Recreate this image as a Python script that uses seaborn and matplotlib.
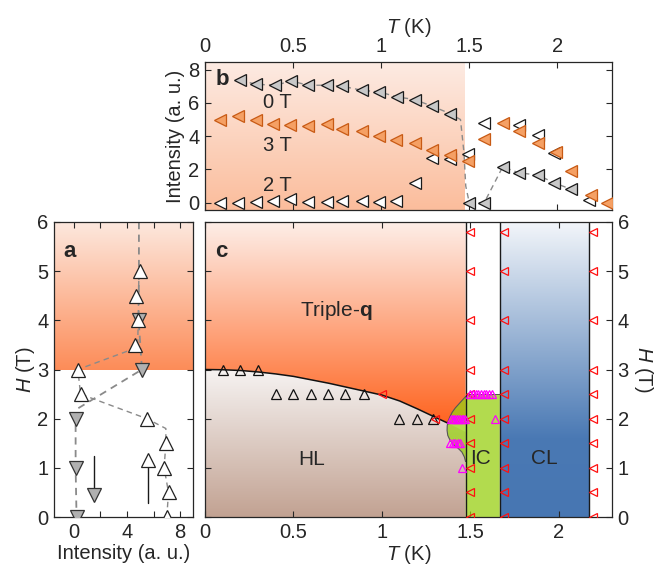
import numpy as np
import pandas as pd
import seaborn as sns
import matplotlib.pyplot as plt
from matplotlib.colors import LinearSegmentedColormap
from matplotlib.patches import Polygon

sns.set_theme(style="ticks")
plt.rcParams["font.family"] = ["Liberation Sans", "DejaVu Sans"]
plt.rcParams["mathtext.fontset"] = "custom"
plt.rcParams["mathtext.it"] = "Liberation Sans:italic"
plt.rcParams["mathtext.rm"] = "Liberation Sans"
plt.rcParams["mathtext.bf"] = "Liberation Sans:bold"

# ---- panel a : field sweeps
a_up_H = [0, 0.5, 1, 1.5, 2, 2.5, 3, 3.5, 4, 4.5, 5]
a_up_I = [7.0, 7.13, 6.8, 6.93, 5.5, 0.5, 0.3, 4.63, 4.8, 4.7, 4.95]
a_dn_H = [0, 1, 2, 3, 4]
a_dn_I = [0.2, 0.13, 0.13, 5.13, 4.88]
a_upline_H = [0, 0.5, 1, 1.5, 1.8, 2, 2.5, 3, 3.45, 4, 5]
a_upline_I = [7.0, 7.13, 6.8, 6.93, 6.93, 5.5, 0.5, 0.3, 4.8, 4.85, 4.9]
a_dnline_H = [6, 5, 4, 3, 2.18, 2, 1, 0]
a_dnline_I = [4.9, 4.9, 4.88, 5.13, 0.13, 0.13, 0.13, 0.2]
arrow_dn_I, arrow_dn_H = [1.5, 1.5], [1.25, 0.55]
arrow_up_I, arrow_up_H = [5.55, 5.55], [0.28, 1.05]

# ---- panel b : temperature scans
b_T0 = [0.2, 0.29, 0.4, 0.49, 0.585, 0.69, 0.78, 0.89, 0.99, 1.09, 1.19, 1.29, 1.39,
        1.5, 1.585, 1.69, 1.78, 1.89, 1.98, 2.08]
b_I0 = [7.36, 7.12, 7.06, 7.32, 7.06, 7.06, 7.0, 6.76, 6.66, 6.36, 6.2, 5.8, 5.36,
        0.0, 0.0, 2.16, 1.8, 1.66, 1.2, 0.8]
b_line_T = [0.2, 0.29, 0.4, 0.49, 0.585, 0.69, 0.78, 0.89, 0.99, 1.09, 1.19, 1.29, 1.39,
            1.45, 1.47, 1.48, 1.5, 1.585, 1.69, 1.78, 1.89, 1.98, 2.08]
b_line_I = [7.36, 7.12, 7.06, 7.32, 7.06, 7.06, 7.0, 6.76, 6.66, 6.36, 6.2, 5.8, 5.36,
            5.0, 3.0, 1.0, 0.0, 0.0, 2.16, 1.8, 1.66, 1.2, 0.8]
b_T3 = [0.085, 0.19, 0.29, 0.387, 0.48, 0.585, 0.69, 0.78, 0.89, 0.99, 1.085, 1.19, 1.29,
        1.39, 1.49, 1.585, 1.69, 1.78, 1.89, 1.99, 2.08, 2.19, 2.28]
b_I3 = [5.0, 5.2, 5.0, 4.72, 4.66, 4.6, 4.72, 4.46, 4.32, 4.0, 3.76, 3.6, 3.16,
        2.86, 2.52, 3.8, 4.8, 4.32, 3.6, 3.06, 1.92, 0.46, 0.0]
b_T2 = [0.085, 0.19, 0.29, 0.387, 0.48, 0.585, 0.69, 0.78, 0.89, 0.99, 1.085, 1.19,
        1.29, 1.39, 1.49, 1.585, 1.78, 1.89, 1.98, 2.18]
b_I2 = [0.0, 0.0, 0.06, 0.12, 0.2, 0.06, 0.06, 0.12, 0.12, 0.06, 0.12, 1.2,
        2.66, 2.6, 2.92, 4.8, 4.66, 4.06, 3.0, 0.16]

# ---- panel c : phase diagram
curve_T = [0, 0.1, 0.2, 0.3, 0.4, 0.5, 0.6, 0.7, 0.8, 0.9, 1.0, 1.1, 1.2, 1.3, 1.378]
curve_H = [3.0, 2.995, 2.98, 2.95, 2.91, 2.86, 2.79, 2.72, 2.64, 2.56, 2.48, 2.36, 2.2, 2.03, 1.9]
T_tq, T_ic, T_cl = 1.473, 1.666, 2.172
ext_H = 1.73
lobe_T = [1.49, 1.473, 1.455, 1.435, 1.415, 1.397, 1.384, 1.374, 1.369, 1.368, 1.372,
          1.385, 1.405, 1.43, 1.452, 1.466, 1.473]
lobe_H = [2.5, 2.45, 2.38, 2.3, 2.22, 2.13, 2.04, 1.95, 1.86, 1.76, 1.66,
          1.56, 1.47, 1.4, 1.32, 1.22, 1.12]

c_black_T = [0.1, 0.2, 0.3, 0.4, 0.5, 0.6, 0.695, 0.79, 0.9, 1.095, 1.2, 1.29]
c_black_H = [3, 3, 3, 2.5, 2.5, 2.5, 2.5, 2.5, 2.5, 2, 2, 2]
red_H = [0, 0.5, 1, 1.5, 2, 2.5, 3, 4, 5, 5.8]
red_cols = [1.5, 1.69, 2.19]
red_extra_T = [1.0, 1.3]
red_extra_H = [2.5, 2.0]
mag_T = [1.5, 1.515, 1.53, 1.545, 1.56, 1.575, 1.59, 1.605, 1.62,
         1.39, 1.40, 1.41, 1.42, 1.43, 1.44, 1.45, 1.46, 1.47, 1.637,
         1.385, 1.40, 1.415, 1.43, 1.44, 1.454]
mag_H = [2.5] * 9 + [2] * 10 + [1.5] * 5 + [1]

fig = plt.figure(figsize=(6.56, 5.76), dpi=100)
axb = fig.add_axes([0.3125, 0.6354, 0.6204, 0.2570])
axc = fig.add_axes([0.3125, 0.1024, 0.6204, 0.5122])
axa = fig.add_axes([0.0823, 0.1024, 0.2124, 0.5122])

FS = 14.5
TXT = 15
dark = "#262626"


def gradient(ax, verts, stops, y0, y1, x0, x1, z=0):
    cmap = LinearSegmentedColormap.from_list("g", stops)
    img = np.linspace(0, 1, 256).reshape(-1, 1)
    im = ax.imshow(img, extent=[x0, x1, y0, y1], origin="lower", aspect="auto",
                   cmap=cmap, zorder=z, interpolation="bilinear")
    poly = Polygon(verts, closed=True, facecolor="none", edgecolor="none")
    ax.add_patch(poly)
    im.set_clip_path(poly)


def pts(ax, x, y, marker, ms, fc, ec, mew=0.9, z=4):
    sns.lineplot(x=x, y=y, estimator=None, sort=False, ax=ax, marker=marker,
                 linestyle="none", ms=ms, mfc=fc, mec=ec, mew=mew, zorder=z)


def style(ax):
    ax.tick_params(direction="in", length=4.5, width=0.8, top=True, right=True,
                   labelsize=FS, colors=dark, pad=4)
    for s in ax.spines.values():
        s.set_linewidth(0.9)
        s.set_color(dark)
        s.set_visible(True)


# ---------- panel a
gradient(axa, [(-1.5, 3), (9, 3), (9, 6), (-1.5, 6)],
         [(0, "#fc8c58"), (1, "#fde8de")], 3, 6, -1.5, 9)
sns.lineplot(x=a_upline_I, y=a_upline_H, estimator=None, sort=False, ax=axa,
             color="#8a8a8a", lw=1, linestyle=(0, (4, 3)), zorder=2)
sns.lineplot(x=a_dnline_I, y=a_dnline_H, estimator=None, sort=False, ax=axa,
             color="#8a8a8a", lw=1.3, linestyle=(0, (4, 3)), zorder=2)
axa.plot(arrow_dn_I, arrow_dn_H, color="k", lw=1, zorder=3)
axa.plot(arrow_up_I, arrow_up_H, color="k", lw=1, zorder=3)
pts(axa, [arrow_dn_I[0]], [0.45], "v", 9.5, "#b0b0b0", "#333333")
pts(axa, [arrow_up_I[0]], [1.15], "^", 9.5, "white", "#222222")
pts(axa, a_up_I, a_up_H, "^", 9.5, "white", "#222222", z=5)
pts(axa, a_dn_I, a_dn_H, "v", 9.5, "#b0b0b0", "#333333", z=4)
axa.set_xlim(-1.5, 9)
axa.set_ylim(0, 6)
axa.set_xticks([0, 2, 4, 6, 8])
axa.set_xticklabels(["0", "", "4", "", "8"])
axa.set_yticks(range(7))
axa.set_xlabel("Intensity (a. u.)", fontsize=FS, color=dark, labelpad=2)
axa.set_ylabel("$H$ (T)", fontsize=FS, color=dark, labelpad=0)
axa.text(-0.8, 5.39, "a", fontsize=16, fontweight="bold", va="center", ha="left")
style(axa)
axa.set_zorder(3)

# ---------- panel b
gradient(axb, [(0, -0.5), (T_tq, -0.5), (T_tq, 8.5), (0, 8.5)],
         [(0, "#fbbd9c"), (1, "#fdebe3")], -0.44, 8.46, 0, T_tq)
sns.lineplot(x=b_line_T, y=b_line_I, estimator=None, sort=False, ax=axb,
             color="#8a8a8a", lw=1, linestyle=(0, (4, 3)), zorder=2)
pts(axb, b_T2, b_I2, "<", 8.5, "white", "#1a1a1a", z=3)
pts(axb, b_T0, b_I0, "<", 8.5, "#c8c8c8", "#1a1a1a", z=4)
pts(axb, b_T3, b_I3, "<", 8.5, "#f5a064", "#c85a14", z=5)
axb.text(0.41, 6.05, "0 T", fontsize=TXT - 0.5, ha="center", va="center")
axb.text(0.41, 3.46, "3 T", fontsize=TXT - 0.5, ha="center", va="center")
axb.text(0.41, 1.06, "2 T", fontsize=TXT - 0.5, ha="center", va="center")
axb.text(0.06, 7.42, "b", fontsize=16, fontweight="bold", va="center", ha="left")
axb.set_xlim(0, 2.31)
axb.set_ylim(-0.44, 8.46)
axb.set_xticks([0, 0.5, 1, 1.5, 2])
axb.set_xticklabels(["0", "0.5", "1", "1.5", "2"])
axb.set_yticks([0, 2, 4, 6, 8])
axb.xaxis.set_label_position("top")
axb.set_xlabel("$T$ (K)", fontsize=FS, color=dark, labelpad=3)
axb.set_ylabel("Intensity (a. u.)", fontsize=FS, color=dark, labelpad=2)
style(axb)
axb.tick_params(labeltop=True, labelbottom=False)

# ---------- panel c
bnd = list(zip(curve_T, curve_H))
gradient(axc, [(0, 6), (T_tq, 6), (T_tq, ext_H)] + bnd[::-1],
         [(0, "#ff6420"), (1, "#fdeee8")], 1.9, 6, 0, T_tq)
gradient(axc, [(0, 0), (T_tq, 0), (T_tq, ext_H)] + bnd[::-1],
         [(0, "#c2a292"), (1, "#f6f3f2")], 0, 3, 0, T_tq)
gradient(axc, [(T_ic, 0), (T_cl, 0), (T_cl, 6), (T_ic, 6)],
         [(0, "#4776b2"), (1.6 / 6, "#4a79b4"), (1, "#f3f6fa")], 0, 6, T_ic, T_cl)
green = [(T_tq, 0), (T_ic, 0), (T_ic, 2.5)] + list(zip(lobe_T, lobe_H))
axc.add_patch(Polygon(green, closed=True, facecolor="#98d013", alpha=0.75,
                      edgecolor="none", zorder=1))
axc.add_patch(Polygon(list(zip(lobe_T, lobe_H)), closed=False, facecolor="none",
                      edgecolor="#555555", lw=0.8, zorder=2))
for t in [T_tq, T_ic, T_cl]:
    axc.axvline(t, color="#1a1a1a", lw=1, zorder=2)
axc.plot([T_tq, T_ic], [2.5, 2.5], color="#444444", lw=0.6, zorder=2)
sns.lineplot(x=curve_T, y=curve_H, estimator=None, sort=False, ax=axc,
             color="#111111", lw=1.1, zorder=3)
pts(axc, c_black_T, c_black_H, "^", 6.5, "none", "#111111", mew=0.9)
red_T = [t for t in red_cols for _ in red_H] + red_extra_T
red_Hs = red_H * len(red_cols) + red_extra_H
pts(axc, red_T, red_Hs, "<", 6, "none", "#ff1010", mew=0.9, z=5)
pts(axc, mag_T, mag_H, "^", 6, "none", "#ff00ff", mew=0.9, z=6)
axc.text(0.74, 4.2, "Triple-$\\mathbf{q}$", fontsize=TXT, ha="center", va="center")
axc.text(0.60, 1.16, "HL", fontsize=TXT, ha="center", va="center")
axc.text(1.558, 1.19, "IC", fontsize=TXT, ha="center", va="center")
axc.text(1.917, 1.19, "CL", fontsize=TXT, ha="center", va="center")
axc.text(0.06, 5.39, "c", fontsize=16, fontweight="bold", va="center", ha="left")
axc.set_xlim(0, 2.3)
axc.set_ylim(0, 6)
axc.set_xticks([0, 0.5, 1, 1.5, 2])
axc.set_xticklabels(["0", "0.5", "1", "1.5", "2"])
axc.set_yticks(range(7))
axc.set_xlabel("$T$ (K)", fontsize=FS, color=dark, labelpad=1)
axc.yaxis.set_label_position("right")
axc.set_ylabel("$H$ (T)", fontsize=FS, color=dark, rotation=270, labelpad=19)
style(axc)
axc.tick_params(axis="y", labelleft=False, labelright=True)

fig.savefig("out.png", dpi=100)
